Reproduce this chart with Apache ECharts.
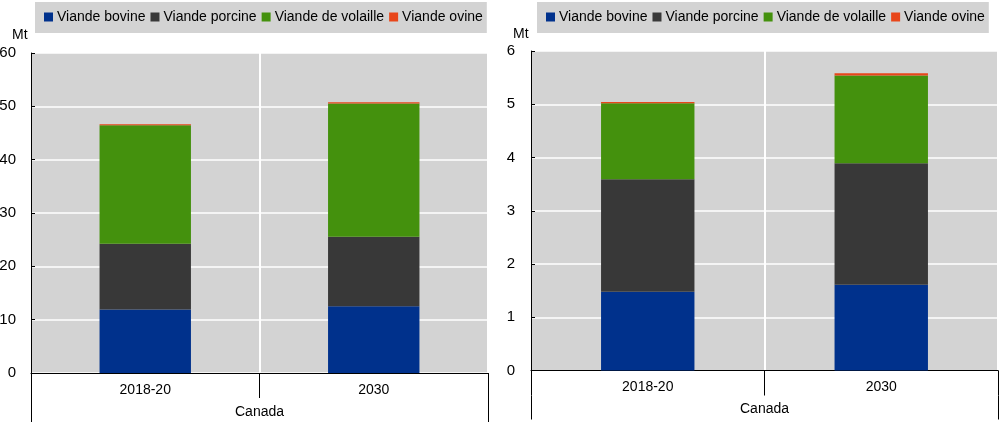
<!DOCTYPE html>
<html>
<head>
<meta charset="utf-8">
<script src="https://cdn.jsdelivr.net/npm/echarts@6/dist/echarts.min.js"></script>
<style>
html,body{margin:0;padding:0;background:#fff;}
#chart{width:1000px;height:426px;}
</style>
</head>
<body>
<div id="chart"></div>
<script>
const categories = ['2018-20', '2030'];
const groupLabel = ['Canada'];
const seriesNames = ['Viande bovine', 'Viande porcine', 'Viande de volaille', 'Viande ovine'];
const colors = ['#00318c', '#383838', '#44910d', '#e8461a'];

// Left panel
const bovineL = [11.9, 12.5];
const porcineL = [12.35, 13.05];
const volailleL = [22.2, 25.0];
const ovineL = [0.2, 0.2];
// Right panel
const bovineR = [1.48, 1.61];
const porcineR = [2.11, 2.28];
const volailleR = [1.43, 1.65];
const ovineR = [0.02, 0.04];

const yTicksL = {min: 0, max: 60, interval: 10};
const yTicksR = {min: 0, max: 6, interval: 1};
const unitLabel = 'Mt';

const FONT = "'Liberation Sans', Arial, sans-serif";
const FS = 14;

const chart = echarts.init(document.getElementById('chart'), null, {renderer: 'canvas'});

function legend(left) {
  return {
    left: left, top: 2,
    data: seriesNames,
    backgroundColor: '#d3d3d3',
    padding: [8, 4, 9, 9],
    itemWidth: 9, itemHeight: 9, itemGap: 5,
    icon: 'rect',
    selectedMode: false,
    textStyle: {fontFamily: FONT, fontSize: FS, color: '#000', padding: [0, 0, 0, -1]}
  };
}

function xAxes(gi) {
  return [
    {
      type: 'category', gridIndex: gi, data: categories,
      axisLine: {show: true, lineStyle: {color: '#000', width: 1}},
      axisTick: {show: true, alignWithLabel: false, length: 25, lineStyle: {color: '#000', width: 1}},
      axisLabel: {fontFamily: FONT, fontSize: FS, color: '#000', margin: 10},
      splitLine: {show: true, lineStyle: {color: '#fff', width: 2}}
    },
    {
      type: 'category', gridIndex: gi, data: groupLabel, position: 'bottom', offset: 25,
      axisLine: {show: false},
      axisTick: {show: true, alignWithLabel: false, length: 24, lineStyle: {color: '#000', width: 1}},
      axisLabel: {fontFamily: FONT, fontSize: FS, color: '#000', margin: 7},
      splitLine: {show: false}
    }
  ];
}

function yAxis(gi, t, margin) {
  return {
    type: 'value', gridIndex: gi, min: t.min, max: t.max, interval: t.interval,
    axisLine: {show: true, lineStyle: {color: '#000', width: 1}},
    axisTick: {show: true, inside: true, length: 4, lineStyle: {color: '#000'}},
    axisLabel: {fontFamily: FONT, fontSize: 15, color: '#000', margin: margin},
    splitLine: {show: true, lineStyle: {color: '#fff', width: 1.5}}
  };
}

function bars(gi, arrs) {
  return arrs.map((arr, i) => ({
    name: seriesNames[i], type: 'bar', stack: 'total' + gi,
    xAxisIndex: gi * 2, yAxisIndex: gi,
    barWidth: '40%', data: arr,
    itemStyle: {color: colors[i]},
    emphasis: {disabled: true}
  }));
}

const option = {
  animation: false,
  color: colors,
  title: [
    {text: unitLabel, left: 12, top: 28, textStyle: {fontFamily: FONT, fontSize: FS, fontWeight: 'normal', color: '#000'}, padding: 0},
    {text: unitLabel, left: 513, top: 27, textStyle: {fontFamily: FONT, fontSize: FS, fontWeight: 'normal', color: '#000'}, padding: 0}
  ],
  legend: [legend(35), legend(537)],
  grid: [
    {left: 31, right: 512, top: 53, bottom: 53, show: true, backgroundColor: '#d3d3d3', borderWidth: 0, containLabel: false, outerBoundsMode: 'none'},
    {left: 531, right: 2, top: 51, bottom: 55.5, show: true, backgroundColor: '#d3d3d3', borderWidth: 0, containLabel: false, outerBoundsMode: 'none'}
  ],
  xAxis: xAxes(0).concat(xAxes(1)),
  yAxis: [yAxis(0, yTicksL, 15), yAxis(1, yTicksR, 16)],
  series: bars(0, [bovineL, porcineL, volailleL, ovineL]).concat(bars(1, [bovineR, porcineR, volailleR, ovineR]))
};
chart.setOption(option);
</script>
</body>
</html>
